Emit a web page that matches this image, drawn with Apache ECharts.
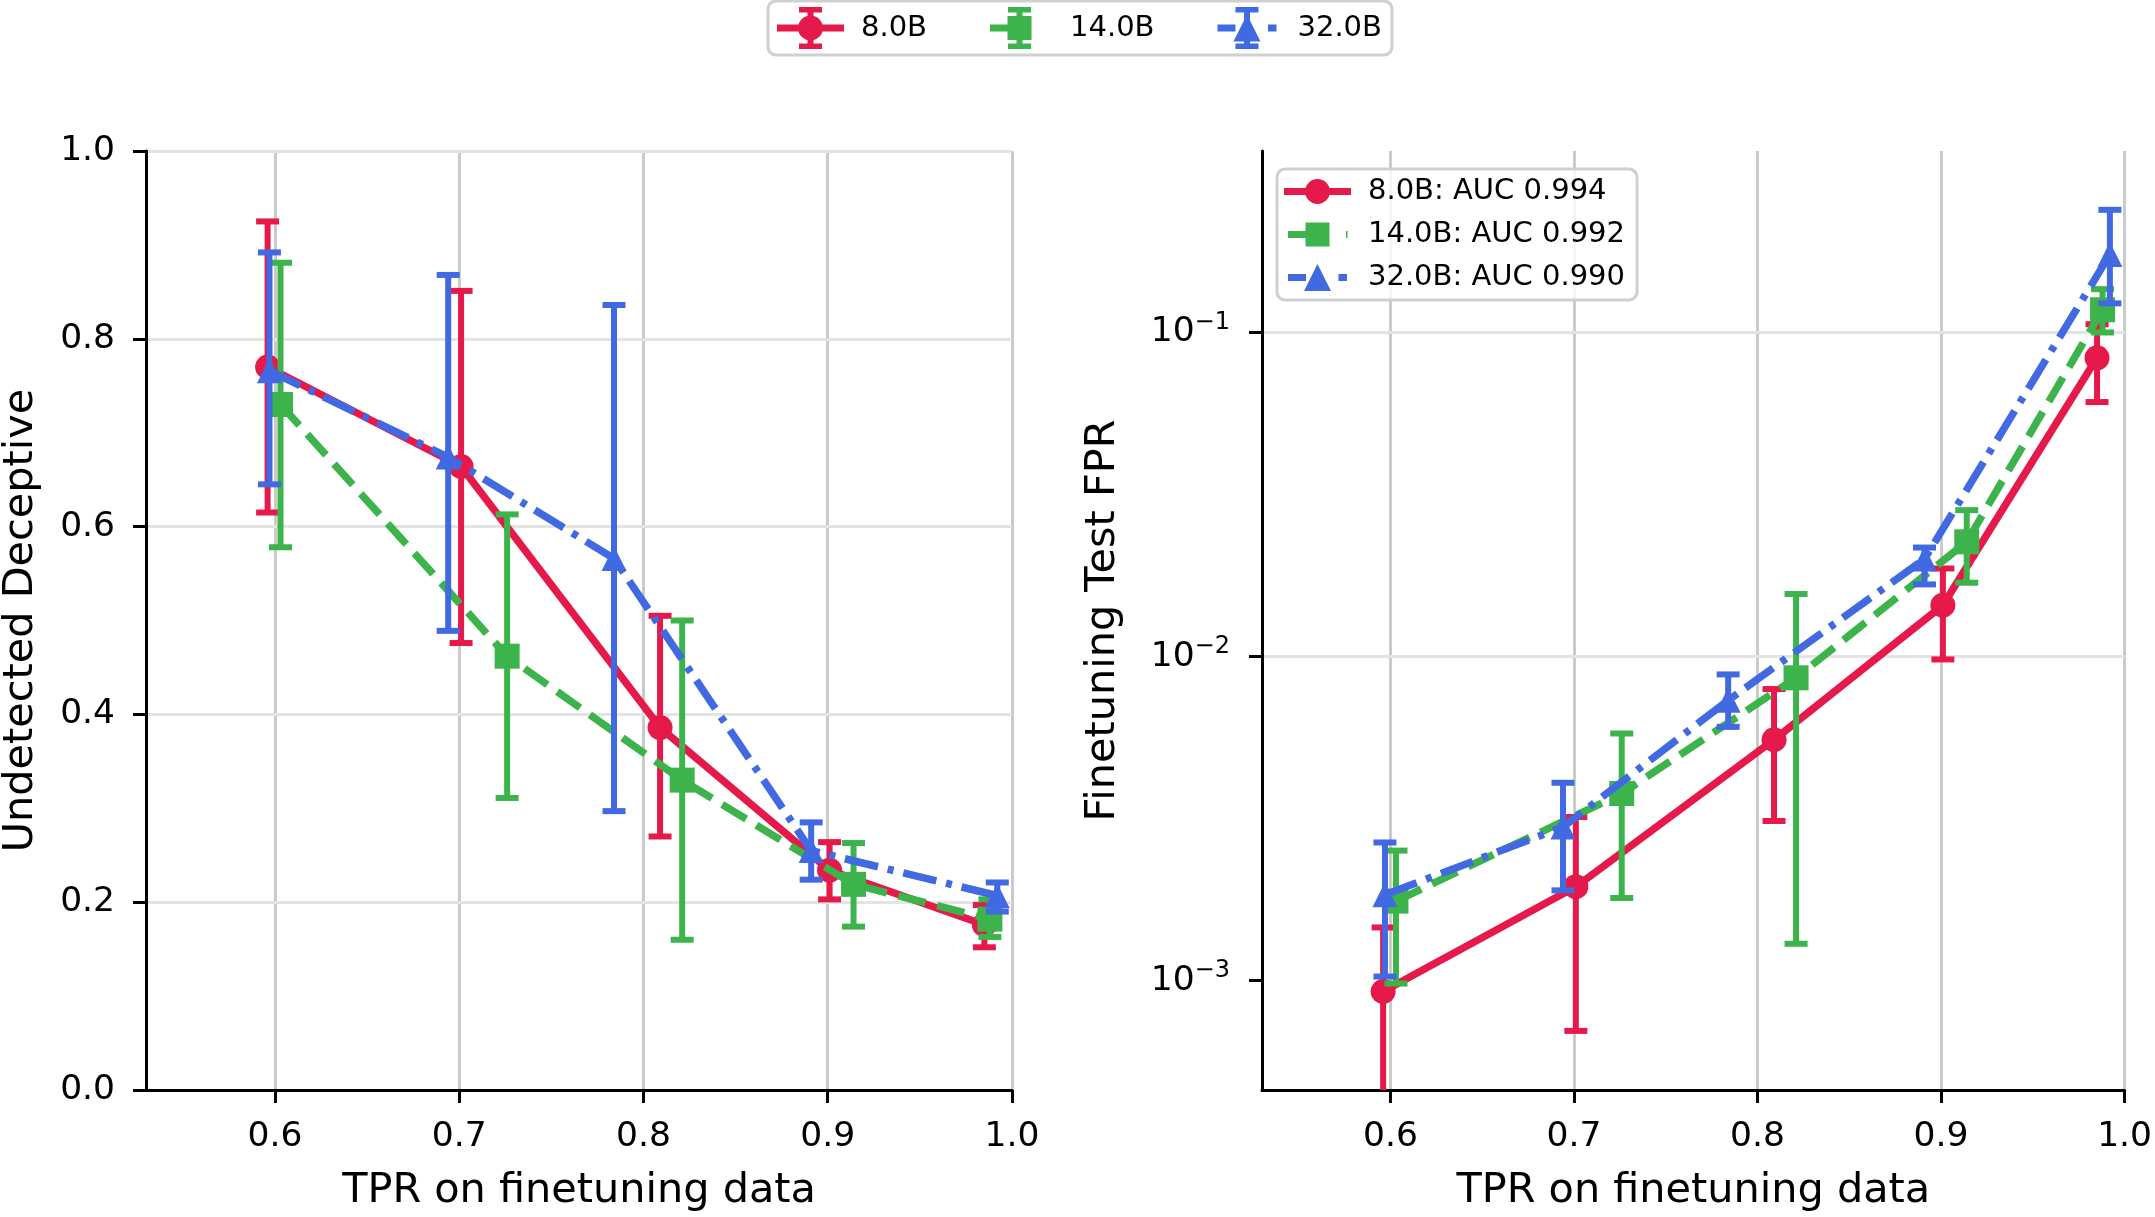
<!DOCTYPE html>
<html>
<head>
<meta charset="utf-8">
<title>Undetected deceptive / finetuning FPR vs TPR</title>
<script src="https://cdn.jsdelivr.net/npm/echarts@6/dist/echarts.min.js"></script>
<style>
    html, body { margin: 0; padding: 0; background: #fff; }
    #chart { width: 2155px; height: 1217px; }
</style>
</head>
<body>
<div id="chart"></div>
<script>
// ---- data ----
var modelNames = ['8.0B', '14.0B', '32.0B'];
var aucText = ['AUC 0.994', 'AUC 0.992', 'AUC 0.990'];
var xTicks = [0.6, 0.7, 0.8, 0.9, 1.0];
var undetTicks = [0, 0.2, 0.4, 0.6, 0.8, 1.0];
var fprTicks = [0.001, 0.01, 0.1];

// TPR on finetuning data (x position of each point)
var tpr8  = [0.596, 0.701, 0.809, 0.901, 0.985];
var tpr14 = [0.603, 0.726, 0.821, 0.914, 0.988];
var tpr32 = [0.597, 0.694, 0.784, 0.891, 0.992];

// left: undetected deceptive, with error bar ends
var undet8    = [0.770, 0.664, 0.386, 0.234, 0.176];
var undet8Lo  = [0.615, 0.476, 0.270, 0.203, 0.152];
var undet8Hi  = [0.925, 0.851, 0.505, 0.264, 0.197];
var undet14   = [0.730, 0.462, 0.330, 0.219, 0.182];
var undet14Lo = [0.578, 0.311, 0.160, 0.174, 0.163];
var undet14Hi = [0.881, 0.613, 0.500, 0.263, 0.203];
var undet32   = [0.766, 0.674, 0.566, 0.255, 0.207];
var undet32Lo = [0.645, 0.489, 0.297, 0.224, 0.190];
var undet32Hi = [0.892, 0.868, 0.836, 0.285, 0.221];

// right: finetuning test FPR (log), with error bar ends (0 = below the axis)
var fpr8    = [0.000926, 0.00195, 0.00554, 0.0144, 0.0835];
var fpr8Lo  = [0,        0.00070, 0.00311, 0.0098, 0.0610];
var fpr8Hi  = [0.00146,  0.00320, 0.00794, 0.0187, 0.106];
var fpr14   = [0.00176,  0.00378, 0.00860, 0.0226, 0.1175];
var fpr14Lo = [0.00098,  0.00180, 0.00130, 0.0169, 0.100];
var fpr14Hi = [0.00252,  0.00579, 0.0156,  0.0283, 0.136];
var fpr32   = [0.00184,  0.00298, 0.00733, 0.0200, 0.174];
var fpr32Lo = [0.00103,  0.00190, 0.00607, 0.0167, 0.123];
var fpr32Hi = [0.00267,  0.00408, 0.00881, 0.0217, 0.239];

var colors = ['#e6194b', '#3cb44b', '#4169e1'];
var symbols = ['circle', 'rect', 'triangle'];
var dashes = ['solid', [28, 12], [34, 10, 6, 10]];
var FONT = 'DejaVu Sans';

var chart = echarts.init(document.getElementById('chart'));

var tpr = [tpr8, tpr14, tpr32];
var undet = [undet8, undet14, undet32];
var undetLo = [undet8Lo, undet14Lo, undet32Lo];
var undetHi = [undet8Hi, undet14Hi, undet32Hi];
var fpr = [fpr8, fpr14, fpr32];
var fprLo = [fpr8Lo, fpr14Lo, fpr32Lo];
var fprHi = [fpr8Hi, fpr14Hi, fpr32Hi];

function pairs(xs, ys) {
    return xs.map(function (x, i) { return [x, ys[i]]; });
}
function triples(xs, lo, hi) {
    return xs.map(function (x, i) { return [x, lo[i], hi[i]]; });
}

// vertical error bar with caps, clipped at the bottom of the plot
function errBar(params, api) {
    var x = api.value(0);
    var cs = params.coordSys;
    var top = api.coord([x, api.value(2)]);
    var bot = api.coord([x, api.value(1)]);
    var yMax = cs.y + cs.height;
    var capBot = true;
    if (!(bot[1] <= yMax)) { bot[1] = yMax; capBot = false; }
    var st = { stroke: api.visual('color'), lineWidth: 6 };
    var w = 11.5;
    var kids = [
        { type: 'line', shape: { x1: top[0], y1: top[1], x2: top[0], y2: bot[1] }, style: st },
        { type: 'line', shape: { x1: top[0] - w, y1: top[1], x2: top[0] + w, y2: top[1] }, style: st }
    ];
    if (capBot) {
        kids.push({ type: 'line', shape: { x1: top[0] - w, y1: bot[1], x2: top[0] + w, y2: bot[1] }, style: st });
    }
    return { type: 'group', children: kids };
}

// legend handles (67 wide)
var circ = 'M21 21 A12.5 12.5 0 1 1 46 21 A12.5 12.5 0 1 1 21 21 Z';
var bar = 'M30.5 0 H36.5 V42 H30.5 Z M22 0 H45 V5.5 H22 Z M22 36.5 H45 V42 H22 Z';
var topIcons = [
    'path://M0 17.5 H67 V24.5 H0 Z ' + bar + ' ' + circ,
    'path://M4 17.5 H22 V24.5 H4 Z M21.5 9 H45.5 V33 H21.5 Z ' + bar + ' M0 21 H0.1 V21.1 H0 Z M66.9 21 H67 V21.1 H66.9 Z',
    'path://M4 17.5 H22 V24.5 H4 Z M33.5 7.5 L47 34.5 H20 Z M54.5 17.5 H63 V24.5 H54.5 Z ' + bar + ' M0 21 H0.1 V21.1 H0 Z M66.9 21 H67 V21.1 H66.9 Z'
];
var sideIcons = [
    'path://M0 10.5 H67 V17.5 H0 Z M21 14 A12.5 12.5 0 1 1 46 14 A12.5 12.5 0 1 1 21 14 Z',
    'path://M4 10.5 H22 V17.5 H4 Z M21.5 2 H45.5 V26 H21.5 Z M62 10.5 H63.5 V17.5 H62 Z M0 14 H0.1 V14.1 H0 Z M66.9 14 H67 V14.1 H66.9 Z',
    'path://M4 10.5 H22 V17.5 H4 Z M33.5 0.5 L47 27.5 H20 Z M54.5 10.5 H63 V17.5 H54.5 Z M0 14 H0.1 V14.1 H0 Z M66.9 14 H67 V14.1 H66.9 Z'
];

var series = [];
for (var i = 0; i < 3; i++) {
    var leftLine = {
        type: 'line', name: modelNames[i], xAxisIndex: 0, yAxisIndex: 0,
        data: pairs(tpr[i], undet[i]),
        symbol: symbols[i], symbolSize: 25, showSymbol: true,
        lineStyle: { color: colors[i], width: 7.5, type: dashes[i], cap: 'butt' },
        itemStyle: { color: colors[i], borderWidth: 0 },
        emphasis: { disabled: true },
        z: 4 + i * 2
    };
    var rightLine = {
        type: 'line', name: modelNames[i] + ': ' + aucText[i], xAxisIndex: 1, yAxisIndex: 1,
        data: pairs(tpr[i], fpr[i]),
        symbol: symbols[i], symbolSize: 25, showSymbol: true,
        lineStyle: { color: colors[i], width: 7.5, type: dashes[i], cap: 'butt' },
        itemStyle: { color: colors[i], borderWidth: 0 },
        emphasis: { disabled: true },
        z: 4 + i * 2
    };
    if (i === 0) {
        // grid lines drawn as marks on the axes' scales
        leftLine.markLine = {
            silent: true, symbol: 'none', z: 1, animation: false,
            label: { show: false },
            lineStyle: { type: 'solid', width: 2.8, color: '#c8c8c8' },
            emphasis: { disabled: true },
            data: xTicks.map(function (v) { return { xAxis: v }; }).concat(
                undetTicks.slice(1).map(function (v) {
                    return { yAxis: v, lineStyle: { color: '#e4e4e4', width: 2.8, type: 'solid' } };
                }))
        };
        rightLine.markLine = {
            silent: true, symbol: 'none', z: 1, animation: false,
            label: { show: false },
            lineStyle: { type: 'solid', width: 2.8, color: '#c8c8c8' },
            emphasis: { disabled: true },
            data: xTicks.map(function (v) { return { xAxis: v }; }).concat(
                fprTicks.map(function (v) {
                    return { yAxis: v, lineStyle: { color: '#e4e4e4', width: 2.8, type: 'solid' } };
                }))
        };
    }
    series.push(leftLine, rightLine);
    series.push({
        type: 'custom', name: modelNames[i], xAxisIndex: 0, yAxisIndex: 0,
        renderItem: errBar, data: triples(tpr[i], undetLo[i], undetHi[i]),
        encode: { x: 0, y: [1, 2] }, itemStyle: { color: colors[i] }, z: 3 + i * 2, silent: true
    });
    series.push({
        type: 'custom', name: modelNames[i] + ': ' + aucText[i], xAxisIndex: 1, yAxisIndex: 1,
        renderItem: errBar, data: triples(tpr[i], fprLo[i], fprHi[i]),
        encode: { x: 0, y: [1, 2] }, itemStyle: { color: colors[i] }, z: 3 + i * 2, silent: true
    });
}

function xAxisCfg(idx) {
    return {
        gridIndex: idx, type: 'value', min: 0.53, max: 1.0, z: 2,
        splitLine: { show: false },
        axisLine: { show: true, lineStyle: { color: '#000', width: 3 } },
        axisTick: { show: true, length: 13, customValues: xTicks, lineStyle: { color: '#000', width: 3 } },
        axisLabel: {
            customValues: xTicks, margin: 30, fontSize: 34.5, color: '#000', fontFamily: FONT,
            formatter: function (v) { return v.toFixed(1); }
        },
        name: 'TPR on finetuning data', nameLocation: 'middle', nameGap: 81,
        nameTextStyle: { fontSize: 41.4, color: '#000', fontFamily: FONT }
    };
}

var option = {
    animation: false,
    backgroundColor: '#fff',
    grid: [
        { left: 146, top: 151, width: 866, height: 943 },
        { left: 1262, top: 151, width: 866, height: 943 }
    ],
    legend: [
        {
            orient: 'horizontal', left: 768, top: 1,
            padding: [6, 10, 6, 9], itemWidth: 67, itemHeight: 42, itemGap: 59,
            backgroundColor: '#fff', borderColor: '#d0d0d0', borderWidth: 3, borderRadius: 8,
            selectedMode: false,
            itemStyle: { borderWidth: 0 },
            textStyle: { fontSize: 29, color: '#000', fontFamily: FONT, padding: [0, 0, 0, 12] },
            data: modelNames.map(function (n, k) {
                return { name: n, icon: topIcons[k], itemStyle: { color: colors[k], borderWidth: 0 } };
            })
        },
        {
            orient: 'vertical', left: 1277, top: 169,
            padding: [8, 12, 8, 7], itemWidth: 67, itemHeight: 28, itemGap: 14,
            backgroundColor: 'rgba(255,255,255,0.8)', borderColor: '#d0d0d0', borderWidth: 3, borderRadius: 8,
            selectedMode: false,
            itemStyle: { borderWidth: 0 },
            textStyle: { fontSize: 29, color: '#000', fontFamily: FONT, padding: [0, 0, 0, 12] },
            data: modelNames.map(function (n, k) {
                return { name: n + ': ' + aucText[k], icon: sideIcons[k], itemStyle: { color: colors[k], borderWidth: 0 } };
            })
        }
    ],
    xAxis: [xAxisCfg(0), xAxisCfg(1)],
    yAxis: [
        {
            gridIndex: 0, type: 'value', min: 0, max: 1.0, interval: 0.2, z: 2,
            splitLine: { show: false },
            axisLine: { show: true, lineStyle: { color: '#000', width: 3 } },
            axisTick: { show: true, length: 13, lineStyle: { color: '#000', width: 3 } },
            axisLabel: {
                margin: 31, fontSize: 34.5, color: '#000', fontFamily: FONT,
                formatter: function (v) { return v.toFixed(1); }
            },
            name: 'Undetected Deceptive', nameLocation: 'middle', nameRotate: 90, nameGap: 104,
            nameTextStyle: { fontSize: 41.4, color: '#000', fontFamily: FONT }
        },
        {
            gridIndex: 1, type: 'log', logBase: 10, min: 0.00046, max: 0.363, z: 2,
            splitLine: { show: false },
            minorTick: { show: false },
            axisLine: { show: true, lineStyle: { color: '#000', width: 3 } },
            axisTick: { show: true, length: 13, customValues: fprTicks, lineStyle: { color: '#000', width: 3 } },
            axisLabel: {
                customValues: fprTicks, margin: 32, color: '#000', fontFamily: FONT,
                formatter: function (v) {
                    var e = Math.round(Math.log(v) / Math.LN10);
                    return '{b|10}{s|\u2212' + Math.abs(e) + '}';
                },
                rich: {
                    b: { fontSize: 34.5, lineHeight: 44, fontFamily: FONT, color: '#000', verticalAlign: 'middle' },
                    s: { fontSize: 24, lineHeight: 24, fontFamily: FONT, color: '#000', verticalAlign: 'top' }
                }
            },
            name: 'Finetuning Test FPR', nameLocation: 'middle', nameRotate: 90, nameGap: 138,
            nameTextStyle: { fontSize: 41.4, color: '#000', fontFamily: FONT }
        }
    ],
    series: series
};

chart.setOption(option);
</script>
</body>
</html>
